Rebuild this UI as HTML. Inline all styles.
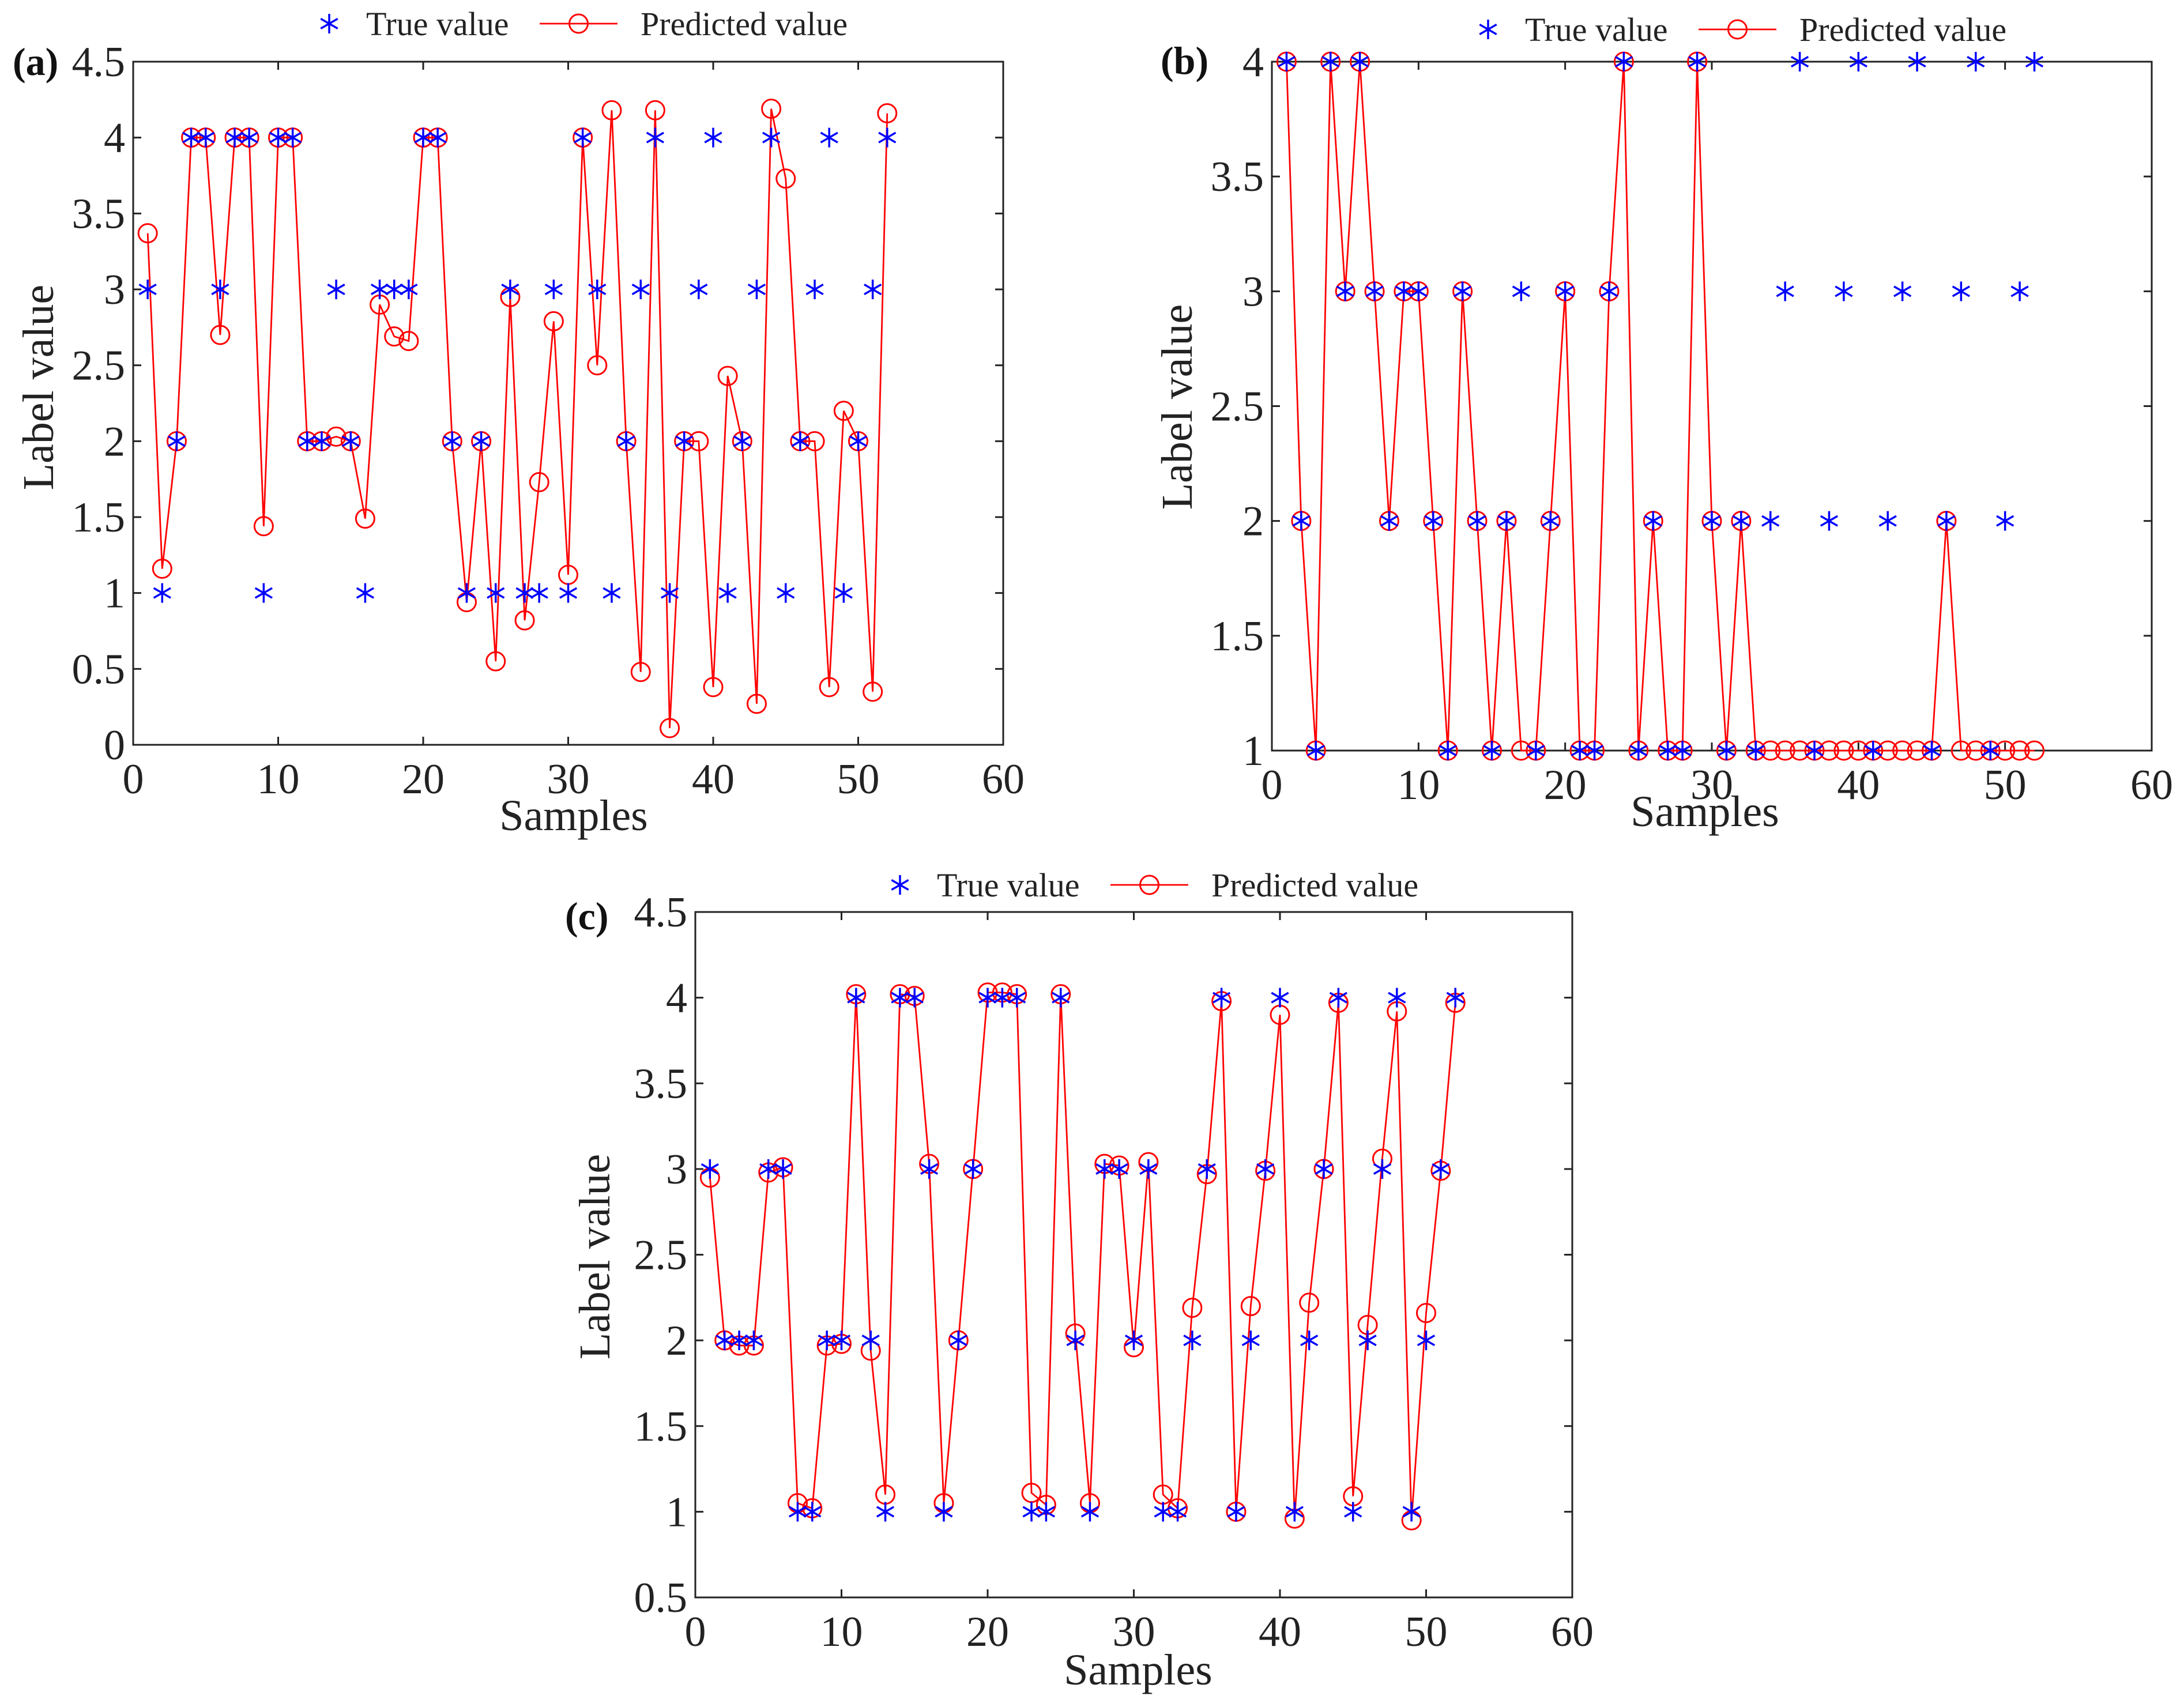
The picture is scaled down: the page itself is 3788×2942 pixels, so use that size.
<!DOCTYPE html>
<html><head><meta charset="utf-8"><style>
html,body{margin:0;padding:0;background:#fff;}
svg{display:block;}
text{font-family:"Liberation Serif",serif;}
</style></head><body>
<svg id="fig" width="3788" height="2942" viewBox="0 0 3788 2942" xmlns="http://www.w3.org/2000/svg" font-family="Liberation Serif, serif">
<rect width="3788" height="2942" fill="#fff"/>
</svg>
<script>
const samples = Array.from({length:52},(_,i)=>i+1);
const trueA = [3,1,2,4,4,3,4,4,1,4,4,2,2,3,2,1,3,3,3,4,4,2,1,2,1,3,1,1,3,1,4,3,1,2,3,4,1,2,3,4,1,2,3,4,1,2,3,4,1,2,3,4];
const predA = [3.37,1.16,2,4,4,2.70,4,4,1.44,4,4,2,2,2.03,2,1.49,2.90,2.69,2.66,4,4,2,0.94,2,0.55,2.95,0.82,1.73,2.79,1.12,4,2.50,4.18,2,0.48,4.18,0.11,2,2,0.38,2.43,2,0.27,4.19,3.73,2,2,0.38,2.20,2,0.35,4.16];
const trueB = [4,2,1,4,3,4,3,2,3,3,2,1,3,2,1,2,3,1,2,3,1,1,3,4,1,2,1,1,4,2,1,2,1,2,3,4,1,2,3,4,1,2,3,4,1,2,3,4,1,2,3,4];
const predB = [4,2,1,4,3,4,3,2,3,3,2,1,3,2,1,2,1,1,2,3,1,1,3,4,1,2,1,1,4,2,1,2,1,1,1,1,1,1,1,1,1,1,1,1,1,2,1,1,1,1,1,1];
const trueC = [3,2,2,2,3,3,1,1,2,2,4,2,1,4,4,3,1,2,3,4,4,4,1,1,4,2,1,3,3,2,3,1,1,2,3,4,1,2,3,4,1,2,3,4,1,2,3,4,1,2,3,4];
const predC = [2.95,2.0,1.97,1.97,2.98,3.01,1.05,1.02,1.97,1.98,4.02,1.94,1.10,4.02,4.01,3.03,1.05,2.0,3.0,4.03,4.03,4.02,1.11,1.04,4.02,2.04,1.05,3.03,3.02,1.96,3.04,1.10,1.02,2.19,2.97,3.98,1.0,2.20,2.99,3.90,0.96,2.22,3.00,3.97,1.09,2.09,3.06,3.92,0.95,2.16,2.99,3.97];
const xTicks = [0,10,20,30,40,50,60];
const yTicksA = [0,0.5,1,1.5,2,2.5,3,3.5,4,4.5];
const yTicksB = [1,1.5,2,2.5,3,3.5,4];
const yTicksC = [0.5,1,1.5,2,2.5,3,3.5,4,4.5];

const NS="http://www.w3.org/2000/svg";
const svg=document.getElementById('fig');
const FF='"Liberation Serif", serif';
function mk(tag,attrs,parent){const e=document.createElementNS(NS,tag);for(const k in attrs)e.setAttribute(k,attrs[k]);(parent||svg).appendChild(e);return e;}
function txt(s,attrs,parent){const e=mk('text',attrs,parent);e.style.fontFamily=FF;e.textContent=s;return e;}
function star(g,cx,cy,r){
  return mk('path',{d:`M${cx},${cy-r}L${cx},${cy+r}M${cx-r*0.866},${cy-r*0.5}L${cx+r*0.866},${cy+r*0.5}M${cx-r*0.866},${cy+r*0.5}L${cx+r*0.866},${cy-r*0.5}`,stroke:'#0000ff','stroke-width':3.5,fill:'none'},g);
}
function panel(cfg){
  const {id,x0,x1,yt,yb,ymin,ymax,yticks,tv,pv,label,lx,ly,ylx,yly,sx,sy,legX,legY}=cfg;
  const g=mk('g',{});
  
  
  const X=v=>x0+(v-0)/(60-0)*(x1-x0);
  const Y=v=>yb-(v-ymin)/(ymax-ymin)*(yb-yt);
  const box=mk('rect',{x:x0,y:yt,width:x1-x0,height:yb-yt,fill:'none',stroke:'#222','stroke-width':3},g);
  
  
  xTicks.forEach(t=>{
    const x=X(t);
    mk('line',{x1:x,y1:yb,x2:x,y2:yb-14,stroke:'#222','stroke-width':3},g);
    mk('line',{x1:x,y1:yt,x2:x,y2:yt+14,stroke:'#222','stroke-width':3},g);
    const l=txt(String(t),{x:x,y:yb+84,'font-size':74,'text-anchor':'middle',fill:'#222'},g);
    
    
  });
  yticks.forEach(t=>{
    const y=Y(t);
    mk('line',{x1:x0,y1:y,x2:x0+14,y2:y,stroke:'#222','stroke-width':3},g);
    mk('line',{x1:x1,y1:y,x2:x1-14,y2:y,stroke:'#222','stroke-width':3},g);
    const l=txt(String(t),{x:x0-14,y:y+25,'font-size':74,'text-anchor':'end',fill:'#222'},g);
    
    
  });
  const pts=samples.map((s,i)=>X(s)+','+Y(pv[i])).join(' ');
  const line=mk('polyline',{points:pts,fill:'none',stroke:'#ff0000','stroke-width':2.8},g);
  
  
  samples.forEach((s,i)=>{
    const c=mk('circle',{cx:X(s),cy:Y(pv[i]),r:16,fill:'none',stroke:'#ff0000','stroke-width':3},g);
    
    
  });
  samples.forEach((s,i)=>{
    const p=star(g,X(s),Y(tv[i]),17);
    
    
  });
  const pl=txt(label,{x:lx,y:ly,'font-size':68,'font-weight':'bold',fill:'#111'},g);
  
  
  const yl=txt('Label value',{x:0,y:0,'font-size':76,'text-anchor':'middle',fill:'#222',transform:`translate(${ylx},${yly}) rotate(-90)`},g);
  
  
  const xl=txt('Samples',{x:sx,y:sy,'font-size':76,'text-anchor':'middle',fill:'#222'},g);
  
  
  const lg=mk('g',{},g);
  
  
  const st=star(lg,legX,legY,17);
  
  
  const t1=txt('True value',{x:legX+64,y:legY+20,'font-size':58,fill:'#222'},lg);
  
  
  const lx0=legX+365, lx1=legX+500;
  mk('line',{x1:lx0,y1:legY,x2:lx1,y2:legY,stroke:'#ff0000','stroke-width':2.8},lg);
  mk('circle',{cx:(lx0+lx1)/2,cy:legY,r:16,fill:'none',stroke:'#ff0000','stroke-width':3},lg);
  const t2=txt('Predicted value',{x:legX+540,y:legY+20,'font-size':58,fill:'#222'},lg);
  
  
}
panel({id:'a',x0:231,x1:1740,yt:107,yb:1292,ymin:0,ymax:4.5,yticks:yTicksA,tv:trueA,pv:predA,label:'(a)',lx:22,ly:130,ylx:92,yly:672,sx:995,sy:1440,legX:571,legY:41});
panel({id:'b',x0:2206,x1:3732,yt:107,yb:1302,ymin:1,ymax:4,yticks:yTicksB,tv:trueB,pv:predB,label:'(b)',lx:2013,ly:128,ylx:2067,yly:706,sx:2957,sy:1433,legX:2581,legY:51});
panel({id:'c',x0:1206,x1:2727,yt:1582,yb:2771,ymin:0.5,ymax:4.5,yticks:yTicksC,tv:trueC,pv:predC,label:'(c)',lx:980,ly:1612,ylx:1057,yly:2180,sx:1974,sy:2922,legX:1561,legY:1535});
</script>
</body></html>
